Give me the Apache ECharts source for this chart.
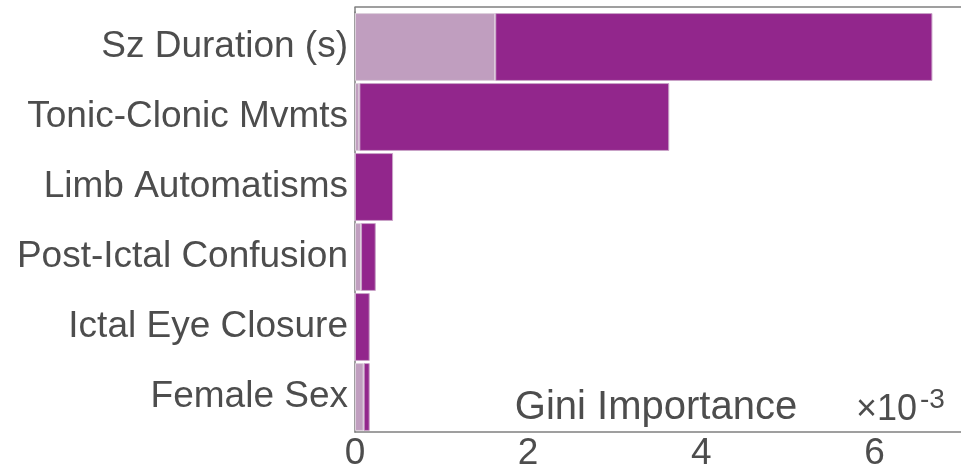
<!DOCTYPE html>
<html>
<head>
<meta charset="utf-8">
<script src="https://cdn.jsdelivr.net/npm/echarts@6/dist/echarts.min.js"></script>
<style>
  html, body { margin: 0; padding: 0; background: #fff; }
  #chart { width: 961px; height: 475px; }
</style>
</head>
<body>
<div id="chart"></div>
<script>
// feature names, top to bottom
var features = ['Sz Duration (s)', 'Tonic-Clonic Mvmts', 'Limb Automatisms',
                'Post-Ictal Confusion', 'Ictal Eye Closure', 'Female Sex'];
// Gini importance (x 10^-3), two stacked parts
var lightPart = [1.62, 0.05, 0, 0.07, 0, 0.10];
var darkPart  = [5.05, 3.58, 0.44, 0.17, 0.17, 0.07];
var xTicks = [0, 2, 4, 6];

var txtColor = '#4d4d4d';
var axColor = '#808080';
var font = 'Liberation Sans, Arial, Helvetica, sans-serif';

var chart = echarts.init(document.getElementById('chart'));

var option = {
    backgroundColor: '#fff',
    animation: false,
    grid: { left: 355, right: -2, top: 12, bottom: 43 },
    xAxis: [
        {
            type: 'value', position: 'bottom',
            min: 0, max: 7, interval: 2,
            axisLine: { show: true, lineStyle: { color: axColor, width: 1.5 } },
            axisTick: { inside: true, length: 4, lineStyle: { color: axColor } },
            axisLabel: {
                color: txtColor, fontSize: 37, fontFamily: font, margin: 3,
                showMaxLabel: false,
                formatter: function (v) { return xTicks.indexOf(v) >= 0 ? String(v) : ''; }
            },
            splitLine: { show: false }
        },
        {
            type: 'value', position: 'top', offset: 5,
            min: 0, max: 7, interval: 2,
            axisLine: { show: true, lineStyle: { color: axColor, width: 1.5 } },
            axisTick: { inside: true, length: 5, lineStyle: { color: axColor } },
            axisLabel: { show: false },
            splitLine: { show: false }
        }
    ],
    yAxis: [
        {
            type: 'category', data: features, inverse: true,
            axisLine: { show: true, lineStyle: { color: axColor, width: 1.5 } },
            axisTick: { inside: true, alignWithLabel: true, length: 7, lineStyle: { color: axColor } },
            axisLabel: { color: txtColor, fontSize: 37, fontFamily: font, margin: 7 }
        },
        {
            type: 'category', data: features, inverse: true, position: 'right',
            axisLine: { show: false },
            axisTick: { inside: true, alignWithLabel: true, length: 8, lineStyle: { color: axColor } },
            axisLabel: { show: false }
        }
    ],
    series: [
        {
            name: 'light', type: 'bar', stack: 'gini', barWidth: '97%',
            data: lightPart,
            itemStyle: { color: '#c09ebf', borderColor: '#ddd0dc', borderWidth: 1 }
        },
        {
            name: 'dark', type: 'bar', stack: 'gini', barWidth: '97%',
            data: darkPart,
            itemStyle: { color: '#92268c', borderColor: '#c9a3c7', borderWidth: 1 }
        }
    ],
    graphic: [
        // close the box corner above the first band
        { type: 'line', shape: { x1: 355, y1: 7, x2: 355, y2: 13 }, style: { stroke: axColor, lineWidth: 1.5 } },
        {
            type: 'text', x: 656, y: 408,
            style: { text: 'Gini Importance', font: '40px ' + font, fill: txtColor,
                     textAlign: 'center', textVerticalAlign: 'middle' }
        },
        {
            type: 'text', x: 856, y: 410,
            style: { text: '\u00d710', font: '36px ' + font, fill: txtColor,
                     textAlign: 'left', textVerticalAlign: 'middle' }
        },
        {
            type: 'text', x: 920, y: 400,
            style: { text: '-3', font: '28px ' + font, fill: txtColor,
                     textAlign: 'left', textVerticalAlign: 'middle' }
        }
    ]
};

chart.setOption(option);
</script>
</body>
</html>
